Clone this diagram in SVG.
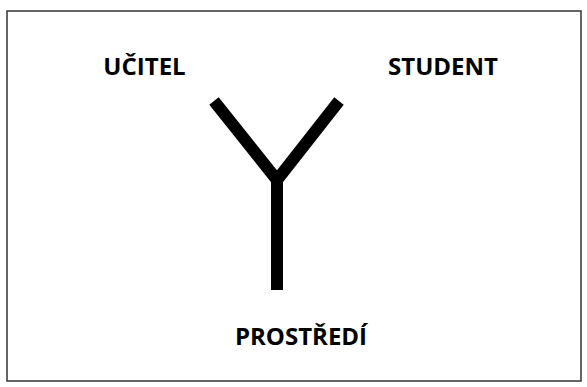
<svg xmlns="http://www.w3.org/2000/svg" width="587" height="387" viewBox="0 0 587 387">
<style>
.lbl{font-family:"Open Sans","Liberation Sans",sans-serif;font-weight:bold;font-size:24px;fill:#000}
.arm{stroke:#000;stroke-width:12;fill:none;stroke-linecap:butt}
</style>
<rect x="0" y="0" width="587" height="387" fill="#fff"/>
<rect x="7" y="11" width="574" height="370" fill="none" stroke="#333" stroke-width="1.5"/>
<g id="connectors">
<polyline class="arm" points="214,101 277,180 339,101" stroke-linejoin="miter"/>
<line class="arm" x1="277" y1="178" x2="277" y2="290"/>
</g>
<g id="ucitel"><text class="lbl" x="144.5" y="75" text-anchor="middle">UČITEL</text></g>
<g id="student"><text class="lbl" x="443" y="75" text-anchor="middle">STUDENT</text></g>
<g id="prostredi"><text class="lbl" x="301" y="345" text-anchor="middle">PROSTŘEDÍ</text></g>
</svg>
